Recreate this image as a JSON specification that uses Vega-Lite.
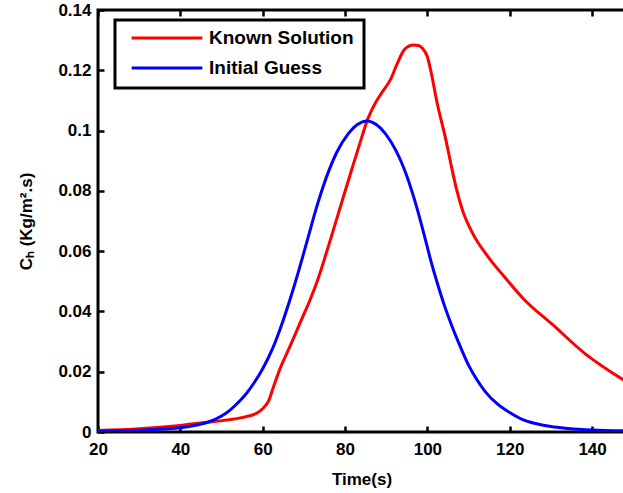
{
  "$schema": "https://vega.github.io/schema/vega-lite/v6.json",
  "autosize": "none",
  "width": 527,
  "height": 422,
  "padding": {"left": 98, "top": 10, "right": 0, "bottom": 61},
  "background": "white",
  "config": {
    "font": "Liberation Sans",
    "view": {"stroke": "black", "strokeWidth": 3},
    "axis": {
      "labelFont": "Liberation Sans", "labelFontWeight": "bold", "labelFontSize": 17, "labelColor": "black",
      "titleFont": "Liberation Sans", "titleFontWeight": "bold", "titleFontSize": 17, "titleColor": "black",
      "domain": false, "ticks": true, "tickOpacity": 1, "tickColor": "#000000", "tickWidth": 2.5, "tickSize": 6, "offset": -6, "grid": false, "zindex": 2
    }
  },
  "data": {"values": [
    {"t": 20, "v": 0.0005, "series": "Known Solution"},
    {"t": 30, "v": 0.0011, "series": "Known Solution"},
    {"t": 40, "v": 0.0022, "series": "Known Solution"},
    {"t": 47, "v": 0.0033, "series": "Known Solution"},
    {"t": 52, "v": 0.0041, "series": "Known Solution"},
    {"t": 56, "v": 0.0051, "series": "Known Solution"},
    {"t": 58.5, "v": 0.0062, "series": "Known Solution"},
    {"t": 60.1, "v": 0.0079, "series": "Known Solution"},
    {"t": 61.5, "v": 0.0105, "series": "Known Solution"},
    {"t": 62.5, "v": 0.0145, "series": "Known Solution"},
    {"t": 64.1, "v": 0.0206, "series": "Known Solution"},
    {"t": 66.6, "v": 0.0283, "series": "Known Solution"},
    {"t": 69.4, "v": 0.0372, "series": "Known Solution"},
    {"t": 71.5, "v": 0.0438, "series": "Known Solution"},
    {"t": 73.5, "v": 0.0510, "series": "Known Solution"},
    {"t": 76, "v": 0.0618, "series": "Known Solution"},
    {"t": 78.8, "v": 0.0744, "series": "Known Solution"},
    {"t": 81.5, "v": 0.0865, "series": "Known Solution"},
    {"t": 84, "v": 0.0975, "series": "Known Solution"},
    {"t": 85.5, "v": 0.1038, "series": "Known Solution"},
    {"t": 87.5, "v": 0.1095, "series": "Known Solution"},
    {"t": 89, "v": 0.1127, "series": "Known Solution"},
    {"t": 91, "v": 0.1168, "series": "Known Solution"},
    {"t": 92.7, "v": 0.1223, "series": "Known Solution"},
    {"t": 94.3, "v": 0.1267, "series": "Known Solution"},
    {"t": 95.5, "v": 0.128, "series": "Known Solution"},
    {"t": 96.7, "v": 0.1284, "series": "Known Solution"},
    {"t": 97.8, "v": 0.1282, "series": "Known Solution"},
    {"t": 98.8, "v": 0.1273, "series": "Known Solution"},
    {"t": 100, "v": 0.1245, "series": "Known Solution"},
    {"t": 100.8, "v": 0.12, "series": "Known Solution"},
    {"t": 102.4, "v": 0.109, "series": "Known Solution"},
    {"t": 104.5, "v": 0.0969, "series": "Known Solution"},
    {"t": 105.7, "v": 0.089, "series": "Known Solution"},
    {"t": 107, "v": 0.081, "series": "Known Solution"},
    {"t": 108.5, "v": 0.0737, "series": "Known Solution"},
    {"t": 111, "v": 0.0659, "series": "Known Solution"},
    {"t": 114.7, "v": 0.0582, "series": "Known Solution"},
    {"t": 118.7, "v": 0.0515, "series": "Known Solution"},
    {"t": 123.6, "v": 0.0438, "series": "Known Solution"},
    {"t": 130.1, "v": 0.036, "series": "Known Solution"},
    {"t": 138.2, "v": 0.0261, "series": "Known Solution"},
    {"t": 148.3, "v": 0.0167, "series": "Known Solution"},
    {"t": 20, "v": 0.0003, "series": "Initial Guess"},
    {"t": 30, "v": 0.0006, "series": "Initial Guess"},
    {"t": 36, "v": 0.001, "series": "Initial Guess"},
    {"t": 40, "v": 0.0014, "series": "Initial Guess"},
    {"t": 44, "v": 0.0023, "series": "Initial Guess"},
    {"t": 47, "v": 0.0034, "series": "Initial Guess"},
    {"t": 50, "v": 0.0053, "series": "Initial Guess"},
    {"t": 52, "v": 0.0072, "series": "Initial Guess"},
    {"t": 54, "v": 0.0097, "series": "Initial Guess"},
    {"t": 56, "v": 0.0127, "series": "Initial Guess"},
    {"t": 58, "v": 0.0165, "series": "Initial Guess"},
    {"t": 60, "v": 0.021, "series": "Initial Guess"},
    {"t": 62.5, "v": 0.028, "series": "Initial Guess"},
    {"t": 64.5, "v": 0.0352, "series": "Initial Guess"},
    {"t": 66.6, "v": 0.0438, "series": "Initial Guess"},
    {"t": 68.6, "v": 0.0528, "series": "Initial Guess"},
    {"t": 70.8, "v": 0.0634, "series": "Initial Guess"},
    {"t": 73.3, "v": 0.0755, "series": "Initial Guess"},
    {"t": 76.1, "v": 0.0868, "series": "Initial Guess"},
    {"t": 78, "v": 0.0928, "series": "Initial Guess"},
    {"t": 80.8, "v": 0.0990, "series": "Initial Guess"},
    {"t": 83, "v": 0.1020, "series": "Initial Guess"},
    {"t": 85.3, "v": 0.1032, "series": "Initial Guess"},
    {"t": 87.6, "v": 0.102, "series": "Initial Guess"},
    {"t": 89.8, "v": 0.0990, "series": "Initial Guess"},
    {"t": 92.5, "v": 0.0930, "series": "Initial Guess"},
    {"t": 94.3, "v": 0.0875, "series": "Initial Guess"},
    {"t": 97, "v": 0.0765, "series": "Initial Guess"},
    {"t": 99.3, "v": 0.0650, "series": "Initial Guess"},
    {"t": 101, "v": 0.0560, "series": "Initial Guess"},
    {"t": 102.5, "v": 0.0490, "series": "Initial Guess"},
    {"t": 104, "v": 0.0425, "series": "Initial Guess"},
    {"t": 106, "v": 0.0350, "series": "Initial Guess"},
    {"t": 108, "v": 0.0283, "series": "Initial Guess"},
    {"t": 110, "v": 0.0222, "series": "Initial Guess"},
    {"t": 112, "v": 0.0174, "series": "Initial Guess"},
    {"t": 114, "v": 0.0135, "series": "Initial Guess"},
    {"t": 117, "v": 0.0093, "series": "Initial Guess"},
    {"t": 120.3, "v": 0.0062, "series": "Initial Guess"},
    {"t": 123, "v": 0.0042, "series": "Initial Guess"},
    {"t": 126, "v": 0.0029, "series": "Initial Guess"},
    {"t": 130, "v": 0.0018, "series": "Initial Guess"},
    {"t": 134.2, "v": 0.0012, "series": "Initial Guess"},
    {"t": 140, "v": 0.0007, "series": "Initial Guess"},
    {"t": 148.3, "v": 0.0004, "series": "Initial Guess"}
  ]},
  "layer": [
    {
      "mark": {"type": "line", "strokeWidth": 3, "interpolate": "monotone", "clip": true},
      "encoding": {
        "x": {"field": "t", "type": "quantitative",
          "scale": {"domain": [20, 148], "nice": false, "zero": false},
          "axis": {"title": "Time(s)", "values": [20, 40, 60, 80, 100, 120, 140], "ticks": true, "labelPadding": 9, "titlePadding": 14, "labelFlush": false}},
        "y": {"field": "v", "type": "quantitative",
          "scale": {"domain": [0, 0.14], "nice": false},
          "axis": {"title": "Cₕ (Kg/m².s)", "values": [0, 0.02, 0.04, 0.06, 0.08, 0.1, 0.12, 0.14], "format": "~g", "ticks": true, "labelPadding": 7, "titlePadding": 22, "labelFlush": false}},
        "color": {"field": "series", "type": "nominal",
          "scale": {"domain": ["Known Solution", "Initial Guess"], "range": ["#ff0000", "#0000ff"]},
          "legend": {
            "title": null, "orient": "none", "legendX": 17, "legendY": 10,
            "fillColor": "white", "strokeColor": "black", "padding": 10,
            "symbolType": "stroke", "symbolSize": 5000, "symbolStrokeWidth": 3, "symbolOffset": 5,
            "labelFont": "Liberation Sans", "labelFontWeight": "bold", "labelFontSize": 19, "labelColor": "black",
            "labelOffset": 5, "clipHeight": 16, "rowPadding": 11, "labelLimit": 400, "zindex": 3,
            "encode": {"legend": {"update": {"stroke": {"value": "black"}, "strokeWidth": {"value": 3}}}}
          }},
        "order": {"field": "series", "sort": "descending"}
      }
    },
    {
      "mark": {"type": "line", "opacity": 0},
      "encoding": {
        "x": {"field": "t", "type": "quantitative",
          "axis": {"orient": "top", "title": null, "labels": false, "ticks": true, "values": [20, 40, 60, 80, 100, 120, 140]}},
        "y": {"field": "v", "type": "quantitative", "axis": null}
      }
    }
  ],
  "resolve": {"axis": {"x": "independent", "y": "independent"}}
}
